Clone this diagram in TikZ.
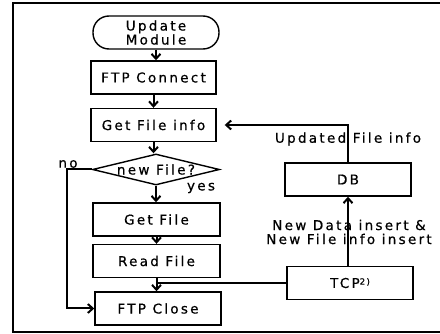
\documentclass[tikz,border=0pt]{standalone}
\usepackage{fontspec}
\newfontfamily\flowfont[LetterSpace=17,FakeBold=0.6]{DejaVu Sans}
\usetikzlibrary{shapes.geometric,arrows.meta}
\begin{document}
\begin{tikzpicture}
[x=1pt,y=-1pt,
  font=\flowfont\fontsize{13.5}{14}\selectfont,
  boxdecorate/.style={shape=rectangle,draw,line width=1.4pt,minimum width=125pt,minimum height=33pt,inner sep=0pt},%
  termdecorate/.style={boxdecorate,rounded corners=16pt,align=center},%
  choicedecorate/.style={shape=diamond,draw,line width=1.4pt,minimum width=127pt,minimum height=31pt,inner sep=0pt,aspect=4},%
  linedecorate/.style={-{Straight Barb[length=5pt,width=9pt]},line width=2pt},%
  plaindecorate/.style={-,line width=2pt}]
\clip (0,0) rectangle (440,334);
\useasboundingbox (0,0) rectangle (440,334);
% frame
\draw[line width=1.6pt] (13,3) rectangle (460,332);
%%% left column: ftp side
% nodes or blocks
\node (start) at (156,32.5) [termdecorate,minimum width=126pt] {Update\\Module};
\node (connect) at (153.5,77.5) [boxdecorate] {FTP Connect};
\node (getinfo) at (153.5,125) [boxdecorate] {Get File info};
\node (newfile) at (156,169.5) [choicedecorate] {new File?};
\node (getfile) at (156.5,219.5) [boxdecorate,minimum width=127pt] {Get File};
\node (readfile) at (156.5,261) [boxdecorate,minimum width=127pt] {Read File};
\node (close) at (158,308.5) [boxdecorate,minimum width=126pt] {FTP Close};
\coordinate (nobend) at (67,240);
%%% right column: db side
\node (db) at (348,179.5) [boxdecorate,minimum width=126pt] {DB};
\node (tcp) at (350,283) [boxdecorate,minimum width=126pt] {TCP\raisebox{0.45ex}{\fontsize{8.5}{9}\selectfont 2)}};
% labels
\node (nolabel) at (68,164) {no};
\node (yeslabel) at (201,188) {yes};
\node (infolabel) at (348,139) {Updated File info};
\node (insertlabel) at (349,232) [align=center,inner sep=0pt] {New Data insert \&\\New File info insert};
% edges or lines
\draw[linedecorate] (start.south) -- (start.south |- connect.north);
\draw[linedecorate] (connect.south) -- (connect.south |- getinfo.north);
\draw[linedecorate] (getinfo.south) -- (getinfo.south |- newfile.north);
\draw[linedecorate] (newfile.south) -- (newfile.south |- getfile.north);
\draw[linedecorate] (getfile.south) -- (getfile.south |- readfile.north);
\draw[linedecorate] (readfile.south) -- (readfile.south |- close.north);
\draw[linedecorate] (newfile.west) -| (nobend) |- (close.west);
\draw[plaindecorate] (tcp.west) -- (tcp.west -| readfile.south);
\draw[linedecorate] (tcp.north -| db.south) -- (db.south);
\draw[linedecorate,shorten >=8pt] (db.north) |- (getinfo.east);
\end{tikzpicture}
\end{document}
